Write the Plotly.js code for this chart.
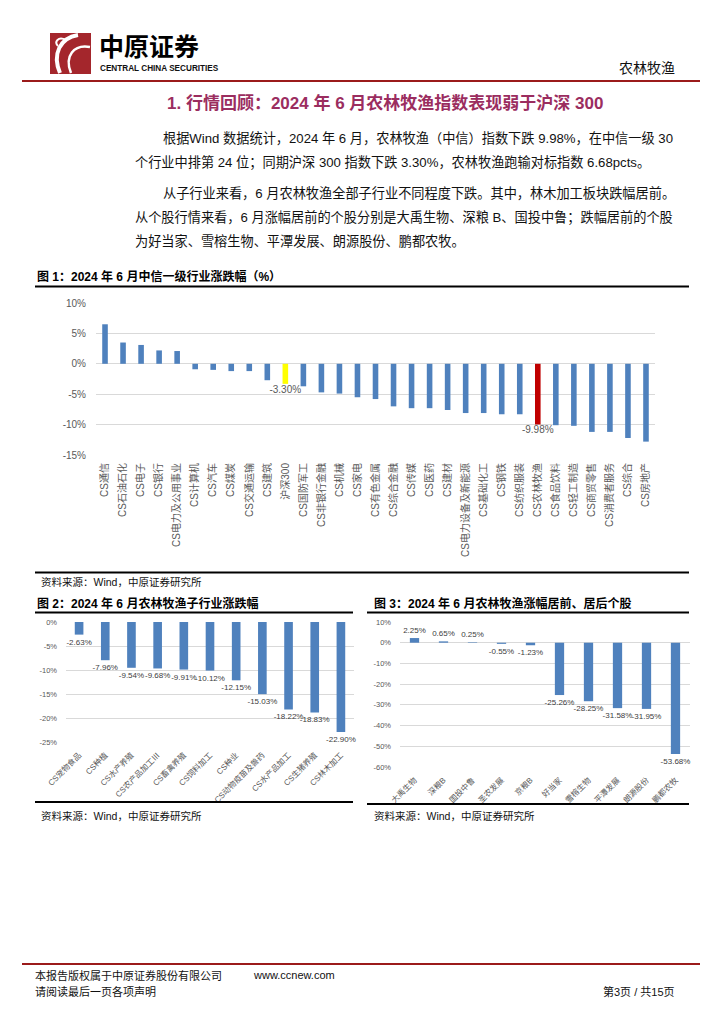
<!DOCTYPE html>
<html><head><meta charset="utf-8">
<script src="https://cdn.plot.ly/plotly-3.0.1.min.js"></script>
<style>html,body{margin:0;padding:0;background:#fff;}#page{width:724px;height:1024px;}</style>
</head><body><div id="page"></div>
<script>
// ---------- DATA ----------
const industryNames = ['CS通信','CS石油石化','CS电子','CS银行','CS电力及公用事业','CS计算机','CS汽车','CS煤炭','CS交通运输','CS建筑','沪深300','CS国防军工','CS非银行金融','CS机械','CS家电','CS有色金属','CS综合金融','CS传媒','CS医药','CS建材','CS电力设备及新能源','CS基础化工','CS钢铁','CS纺织服装','CS农林牧渔','CS食品饮料','CS轻工制造','CS商贸零售','CS消费者服务','CS综合','CS房地产'];
const industryChanges = [6.5,3.5,3.1,2.2,2.1,-0.9,-1.0,-1.2,-1.2,-2.7,-3.30,-3.7,-4.7,-4.9,-5.5,-5.8,-7.0,-7.3,-7.3,-7.6,-8.1,-8.1,-8.3,-8.3,-9.98,-10.1,-10.2,-11.2,-11.2,-12.2,-12.8];
const benchmarkName = '沪深300';
const focusName = 'CS农林牧渔';
const chart1TickVals = [10,5,0,-5,-10,-15];
const chart1TickText = ['10%','5%','0%','-5%','-10%','-15%'];

const subNames = ['CS宠物食品','CS种植','CS水产养殖','CS农产品加工Ⅲ','CS畜禽养殖','CS饲料加工','CS种业','CS动物疫苗及兽药','CS水产品加工','CS生猪养殖','CS林木加工'];
const subChanges = [-2.63,-7.96,-9.54,-9.68,-9.91,-10.12,-12.15,-15.03,-18.22,-18.83,-22.90];
const chart2TickVals = [0,-5,-10,-15,-20,-25];
const chart2TickText = ['0%','-5%','-10%','-15%','-20%','-25%'];

const stockNames = ['大禹生物','深粮B','国投中鲁','圣农发展','京粮B','好当家','雪榕生物','平潭发展','朗源股份','鹏都农牧'];
const stockChanges = [2.25,0.65,0.25,-0.55,-1.23,-25.26,-28.25,-31.58,-31.95,-53.68];
const chart3TickVals = [10,0,-10,-20,-30,-40,-50,-60];
const chart3TickText = ['10%','0%','-10%','-20%','-30%','-40%','-50%','-60%'];

// ---------- LAYOUT HELPERS ----------
const W = 724, H = 1024;
const fx = x => x / W, fy = y => 1 - y / H;
const FONT = 'Liberation Sans, Noto Sans CJK SC, sans-serif';
const CJK = 'Noto Sans CJK SC, sans-serif';
const BLUE = '#4F81BD', YELLOW = '#FFFF00', RED = '#C00000';
const pct = v => v.toFixed(2) + '%';

const traces = [
  {
    type: 'bar', x: industryNames, y: industryChanges, xaxis: 'x', yaxis: 'y', width: 0.31,
    marker: { color: industryNames.map(n => n === benchmarkName ? YELLOW : (n === focusName ? RED : BLUE)) },
    text: industryNames.map((n, i) => (n === benchmarkName || n === focusName) ? pct(industryChanges[i]) : ''),
    textposition: 'outside', cliponaxis: false, constraintext: 'none',
    outsidetextfont: { family: FONT, size: 10, color: '#595959' }, hoverinfo: 'none'
  },
  {
    type: 'bar', x: subNames, y: subChanges, xaxis: 'x2', yaxis: 'y2', width: 0.33,
    marker: { color: BLUE }, text: subChanges.map(pct), textposition: 'outside', cliponaxis: false, constraintext: 'none',
    outsidetextfont: { family: FONT, size: 8, color: '#404040' }, hoverinfo: 'none'
  },
  {
    type: 'bar', x: stockNames, y: stockChanges, xaxis: 'x3', yaxis: 'y3', width: 0.32,
    marker: { color: BLUE }, text: stockChanges.map(pct), textposition: 'outside', cliponaxis: false, constraintext: 'none',
    outsidetextfont: { family: FONT, size: 8, color: '#404040' }, hoverinfo: 'none'
  }
];

function xCat(domain, n, angle, size, standoff) {
  return { domain: domain.map(fx), type: 'category', range: [-0.5, n - 0.5], tickangle: angle,
    tickfont: { family: FONT, size: size, color: '#595959' }, showgrid: false, showline: false, zeroline: false,
    ticks: '', ticklabelstandoff: standoff, fixedrange: true, tickmode: 'linear', dtick: 1 };
}
function yVal(top, bottom, range, vals, text, size, anchor, standoff) {
  return { domain: [fy(bottom), fy(top)], range: range, tickmode: 'array', tickvals: vals, ticktext: text,
    tickfont: { family: FONT, size: size, color: '#595959' }, gridcolor: '#d9d9d9', gridwidth: 1,
    zeroline: false, showline: false, ticks: '', ticklabelstandoff: standoff, anchor: anchor, fixedrange: true };
}

const ann = [];
function T(text, x, y, size, opts) {
  opts = opts || {};
  ann.push({ text: text, x: fx(x), y: fy(y), xref: 'paper', yref: 'paper', showarrow: false,
    xanchor: opts.anchor || 'left', yanchor: 'middle', borderpad: 0,
    font: { family: opts.family || FONT, size: size, color: opts.color || '#111', weight: opts.bold ? 'bold' : 'normal' } });
}
const shapes = [];
function L(x0, y0, x1, y1, color, w) {
  shapes.push({ type: 'line', xref: 'paper', yref: 'paper', x0: fx(x0), y0: fy(y0), x1: fx(x1), y1: fy(y1),
    line: { color: color, width: w } });
}
function P(cmds, color, w, fill) {
  const d = cmds.map(c => c[0] + ' ' + c.slice(1).map((v, i) => i % 2 === 0 ? fx(v) : fy(v)).join(',')).join(' ');
  shapes.push({ type: 'path', xref: 'paper', yref: 'paper', path: d, line: { color: color, width: w }, fillcolor: fill || 'rgba(0,0,0,0)' });
}

// Header
shapes.push({ type: 'rect', xref: 'paper', yref: 'paper', x0: fx(50), x1: fx(91), y0: fy(74), y1: fy(33), fillcolor: '#A4262C', line: { width: 0 } });
P([['M', 78, 35], ['C', 60, 38, 52, 54, 60, 73]], '#ffffff', 4);
P([['M', 90, 47], ['C', 74, 44, 64, 56, 71, 73]], '#ffffff', 2.5);
P([['M', 66, 40], ['C', 58, 36, 54, 42, 58, 46]], '#ffffff', 2);
T('中原证券', 98, 45, 25, { family: CJK, bold: true, color: '#000' });
T('CENTRAL CHINA SECURITIES', 99, 68.5, 8.2, { family: 'Liberation Sans, sans-serif', bold: true, color: '#111' });
T('农林牧渔', 676, 67, 14, { family: CJK, anchor: 'right', color: '#111' });
L(22, 81, 700, 81, '#9B1B1B', 2.2);

// Section title and text
T('1. 行情回顾：2024 年 6 月农林牧渔指数表现弱于沪深 300', 166, 103, 17, { bold: true, color: '#9B2D5F' });
T('根据Wind 数据统计，2024 年 6 月，农林牧渔（中信）指数下跌 9.98%，在中信一级 30', 162, 138, 13.2);
T('个行业中排第 24 位；同期沪深 300 指数下跌 3.30%，农林牧渔跑输对标指数 6.68pcts。', 134, 162, 13.2);
T('从子行业来看，6 月农林牧渔全部子行业不同程度下跌。其中，林木加工板块跌幅居前。', 162, 193, 13.2);
T('从个股行情来看，6 月涨幅居前的个股分别是大禹生物、深粮 B、国投中鲁；跌幅居前的个股', 134, 217, 13.2);
T('为好当家、雪榕生物、平潭发展、朗源股份、鹏都农牧。', 134, 241, 13.2);

// Figure 1 frame
T('图 1：2024 年 6 月中信一级行业涨跌幅（%）', 36, 276, 12, { bold: true, color: '#000' });
L(35, 286.5, 689, 286.5, '#000', 2);
L(35, 572.5, 689, 572.5, '#000', 2);
T('资料来源：Wind，中原证券研究所', 40, 582, 10.5);

// Figure 2 frame
T('图 2：2024 年 6 月农林牧渔子行业涨跌幅', 36, 603, 12, { bold: true, color: '#000' });
L(35, 612.5, 353, 612.5, '#000', 2);
L(35, 802, 353, 802, '#000', 2);
T('资料来源：Wind，中原证券研究所', 40, 816, 10.5);

// Figure 3 frame
T('图 3：2024 年 6 月农林牧渔涨幅居前、居后个股', 373, 603, 12, { bold: true, color: '#000' });
L(367, 612.5, 689, 612.5, '#000', 2);
L(367, 804, 689, 804, '#000', 2);
T('资料来源：Wind，中原证券研究所', 373, 816, 10.5);

// Footer
L(22, 964, 700, 964, '#9B1B1B', 2.2);
T('本报告版权属于中原证券股份有限公司', 34, 975, 11, { family: CJK });
T('www.ccnew.com', 252, 975, 11, { family: 'Liberation Sans, sans-serif' });
T('请阅读最后一页各项声明', 34, 991, 11, { family: CJK });
T('第3页 / 共15页', 676, 991, 11, { anchor: 'right' });

const layout = {
  width: W, height: H, margin: { l: 0, r: 0, t: 0, b: 0 }, paper_bgcolor: '#fff', plot_bgcolor: 'rgba(0,0,0,0)',
  showlegend: false, barmode: 'group',
  xaxis: Object.assign(xCat([96, 655], industryNames.length, -90, 10, 5), { anchor: 'y' }),
  yaxis: yVal(303, 455, [-15, 10], chart1TickVals, chart1TickText, 10, 'x', 9),
  xaxis2: Object.assign(xCat([66, 354], subNames.length, -45, 8, 6), { anchor: 'y2' }),
  yaxis2: yVal(622, 742, [-25, 0], chart2TickVals, chart2TickText, 7.5, 'x2', 8),
  xaxis3: Object.assign(xCat([400, 690], stockNames.length, -45, 8, 6), { anchor: 'y3' }),
  yaxis3: yVal(622, 767, [-60, 10], chart3TickVals, chart3TickText, 7.5, 'x3', 8),
  annotations: ann, shapes: shapes
};
Plotly.newPlot('page', traces, layout, { staticPlot: true, displayModeBar: false });
</script></body></html>
